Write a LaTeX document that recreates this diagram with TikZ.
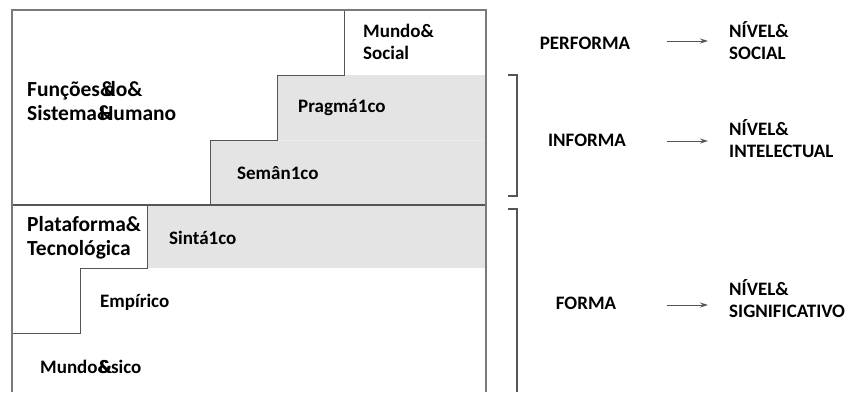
\documentclass[tikz,border=0pt]{standalone}
\usepackage{fontspec}
\setmainfont{Carlito}
\usetikzlibrary{arrows.meta}
\definecolor{edge}{HTML}{7A7A7A}
\definecolor{stepline}{HTML}{555555}
\definecolor{layergrey}{HTML}{E4E4E4}
\tikzset{
  lbl/.style={font=\bfseries\fontsize{19}{22}\selectfont, text=black, inner sep=0pt, align=left, anchor=west},
  biglbl/.style={font=\bfseries\fontsize{21.5}{24}\selectfont, text=black, inner sep=0pt, align=left, anchor=west},
  form/.style={font=\bfseries\fontsize{19}{22}\selectfont, text=black, inner sep=0pt},
  outer/.style={draw=edge, line width=1.4pt},
  stair/.style={draw=stepline, line width=1pt},
  bracket/.style={draw=stepline, line width=1.2pt},
  link/.style={draw=stepline, line width=1pt, -{Stealth[length=8pt,width=5pt]}},
}
\newcommand{\ovl}[1]{\rlap{#1}}
\begin{document}
\begin{tikzpicture}[x=1pt,y=-1pt]
\useasboundingbox (0,0) rectangle (848,392);
\fill[white] (0,0) rectangle (848,392);

% shaded layers
\fill[layergrey] (277,75) -- (486,75) -- (486,205) -- (210,205) -- (210,140) -- (277,140) -- cycle;
\fill[layergrey] (147,205) rectangle (486,268);
\draw[white!92!black, line width=0.6pt] (277,140) -- (486,140);

% staircase outlines
\draw[stair] (344,10) -- (344,75) -- (277,75) -- (277,140) -- (210,140) -- (210,205);
\draw[stair] (147,205) -- (147,268) -- (80,268) -- (80,333) -- (12,333);
\draw[stepline, line width=2pt] (12,205) -- (486,205);

% outer frame
\draw[outer] (12,392) -- (12,10) -- (486,10) -- (486,392);

% labels inside the frame
\node[lbl] (social) at (363,42) {Mundo\&\\Social};
\node[biglbl] (funcoes) at (27,101) {Funções\ovl{\&}\kern0.2em do\&\\Sistema\ovl{\&}\kern0.13em Humano};
\node[lbl] (prag) at (298,108) {Pragmá1co};
\node[lbl] (sem) at (237,173) {Semân1co};
\node[biglbl] (plat) at (27,238) {Plataforma\&\\Tecnológica};
\node[lbl] (sint) at (169,238) {Sintá1co};
\node[lbl] (emp) at (100,302) {Empírico};
\node[lbl] (fis) at (40,367) {Mundo\ovl{\kern0.07em\&}\&sico};

% brackets
\draw[bracket] (508,75) -- (517,75) -- (517,196) -- (508,196);
\draw[bracket] (508,209) -- (517,209) -- (517,392);

% right column
\node[form] (perf) at (585,43) {PERFORMA};
\node[form] (info) at (587,140) {INFORMA};
\node[form] (forma) at (586,303) {FORMA};
\node[lbl] (nsoc) at (729,41) {NÍVEL\&\\SOCIAL};
\node[lbl] (nint) at (729,139) {NÍVEL\&\\INTELECTUAL};
\node[lbl] (nsig) at (729,299) {NÍVEL\&\\SIGNIFICATIVO};

\coordinate (a1) at (667,41);  \coordinate (b1) at (708,41);
\coordinate (a2) at (667,141); \coordinate (b2) at (708,141);
\coordinate (a3) at (667,305); \coordinate (b3) at (708,305);
\draw[link] (a1) -- (b1);
\draw[link] (a2) -- (b2);
\draw[link] (a3) -- (b3);
\end{tikzpicture}
\end{document}
